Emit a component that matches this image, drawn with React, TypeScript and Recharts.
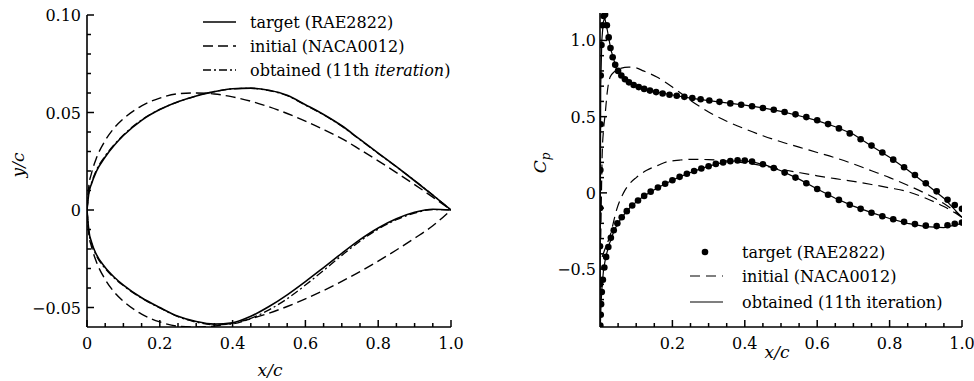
import React from 'react';
import { ComposedChart, Line, Scatter, XAxis, YAxis } from 'recharts';

// ---- left panel: airfoil shapes (y/c vs x/c) ----
const shapeX = [0, 0.005, 0.0125, 0.025, 0.05, 0.075, 0.1, 0.15, 0.2, 0.25, 0.3, 0.35, 0.4, 0.45, 0.5, 0.55, 0.6, 0.65, 0.7, 0.75, 0.8, 0.85, 0.9, 0.95, 1.0];
const targetUpper = [0, 0.0085, 0.0135, 0.0195, 0.0272, 0.0332, 0.0382, 0.046, 0.0515, 0.0555, 0.0585, 0.0607, 0.0622, 0.0625, 0.0614, 0.0588, 0.054, 0.049, 0.0432, 0.0362, 0.0292, 0.0222, 0.015, 0.0076, 0];
const targetLower = [0, -0.0105, -0.0165, -0.0225, -0.0295, -0.0345, -0.0385, -0.045, -0.05, -0.0545, -0.0572, -0.0585, -0.0578, -0.0545, -0.0495, -0.0435, -0.0367, -0.0295, -0.0222, -0.0152, -0.0092, -0.0045, -0.0012, 0.0004, 0];
const initialUpper = [0, 0.0122, 0.0189, 0.0262, 0.0356, 0.0421, 0.0468, 0.0534, 0.0574, 0.0596, 0.06, 0.0595, 0.058, 0.0558, 0.0529, 0.0495, 0.0456, 0.0413, 0.0366, 0.031, 0.0252, 0.0192, 0.013, 0.0066, 0];
const initialLower = [0, -0.0122, -0.0189, -0.0262, -0.0356, -0.0421, -0.0468, -0.0534, -0.0574, -0.0596, -0.06, -0.0595, -0.058, -0.0558, -0.0529, -0.0495, -0.0456, -0.0413, -0.0366, -0.0316, -0.0262, -0.0205, -0.0145, -0.0081, 0];
const obtainedUpper = [0, 0.009, 0.014, 0.0201, 0.0277, 0.0336, 0.0385, 0.0462, 0.0516, 0.0555, 0.0585, 0.0607, 0.0621, 0.0624, 0.0612, 0.0586, 0.0538, 0.0488, 0.043, 0.036, 0.029, 0.0222, 0.0151, 0.0077, 0];
const obtainedLower = [0, -0.011, -0.0171, -0.0231, -0.03, -0.0349, -0.0388, -0.0452, -0.0502, -0.0547, -0.0575, -0.0589, -0.0584, -0.0556, -0.0512, -0.0455, -0.0385, -0.031, -0.0233, -0.016, -0.0098, -0.005, -0.0016, 0.0002, 0];

const leftXTicks = [0, 0.05, 0.1, 0.15, 0.2, 0.25, 0.3, 0.35, 0.4, 0.45, 0.5, 0.55, 0.6, 0.65, 0.7, 0.75, 0.8, 0.85, 0.9, 0.95, 1.0];
const leftXMajor = [0, 0.2, 0.4, 0.6, 0.8, 1.0];
const leftXLabels = ['0', '0.2', '0.4', '0.6', '0.8', '1.0'];
const leftYTicks = [-0.05, -0.04, -0.03, -0.02, -0.01, 0, 0.01, 0.02, 0.03, 0.04, 0.05, 0.06, 0.07, 0.08, 0.09, 0.1];
const leftYMajor = [-0.05, 0, 0.05, 0.1];
const leftYLabels = ['\u22120.05', '0', '0.05', '0.10'];

// ---- right panel: pressure distributions (Cp vs x/c) ----
const targetTopX = [0, 0, 0.0005, 0.001, 0.0015, 0.002, 0.004, 0.007, 0.01, 0.014, 0.019, 0.024, 0.029, 0.035, 0.042, 0.05, 0.059, 0.069, 0.08, 0.093, 0.107, 0.122, 0.138, 0.155, 0.173, 0.192, 0.212, 0.233, 0.255, 0.278, 0.302, 0.33, 0.36, 0.39, 0.42, 0.45, 0.48, 0.51, 0.54, 0.57, 0.6, 0.63, 0.66, 0.69, 0.72, 0.75, 0.78, 0.81, 0.84, 0.87, 0.9, 0.93, 0.96, 0.98, 1.0];
const targetTopCp = [-0.6, -0.35, -0.1, 0.15, 0.45, 0.77, 0.97, 1.1, 1.16, 1.17, 1.1, 1.02, 0.95, 0.89, 0.84, 0.8, 0.77, 0.745, 0.725, 0.708, 0.694, 0.682, 0.671, 0.661, 0.652, 0.644, 0.637, 0.63, 0.622, 0.614, 0.606, 0.597, 0.587, 0.578, 0.568, 0.557, 0.545, 0.531, 0.515, 0.497, 0.476, 0.451, 0.423, 0.39, 0.352, 0.31, 0.265, 0.218, 0.168, 0.117, 0.063, 0.01, -0.045, -0.08, -0.105];
const targetBotX = [0.001, 0.002, 0.003, 0.005, 0.008, 0.012, 0.017, 0.023, 0.03, 0.038, 0.048, 0.06, 0.074, 0.089, 0.105, 0.122, 0.14, 0.16, 0.18, 0.2, 0.22, 0.24, 0.26, 0.28, 0.3, 0.32, 0.34, 0.36, 0.38, 0.4, 0.42, 0.45, 0.48, 0.51, 0.54, 0.57, 0.6, 0.63, 0.66, 0.69, 0.72, 0.75, 0.78, 0.81, 0.84, 0.87, 0.9, 0.93, 0.96, 0.98, 1.0];
const targetBotCp = [-0.87, -0.8, -0.73, -0.65, -0.57, -0.49, -0.42, -0.355, -0.295, -0.245, -0.2, -0.16, -0.12, -0.083, -0.05, -0.02, 0.008, 0.035, 0.06, 0.083, 0.105, 0.125, 0.143, 0.16, 0.175, 0.19, 0.2, 0.208, 0.213, 0.212, 0.205, 0.188, 0.163, 0.133, 0.1, 0.063, 0.025, -0.012, -0.046, -0.078, -0.105, -0.13, -0.153, -0.173, -0.19, -0.205, -0.215, -0.218, -0.212, -0.203, -0.195];

const obtainedTopX = [0, 0.002, 0.005, 0.009, 0.013, 0.02, 0.03, 0.045, 0.065, 0.09, 0.12, 0.16, 0.2, 0.25, 0.3, 0.35, 0.4, 0.45, 0.5, 0.55, 0.6, 0.65, 0.7, 0.75, 0.8, 0.85, 0.9, 0.95, 1.0];
const obtainedTopCp = [-0.85, 0.7, 1.0, 1.12, 1.15, 1.07, 0.94, 0.82, 0.75, 0.71, 0.685, 0.66, 0.642, 0.621, 0.605, 0.59, 0.575, 0.557, 0.535, 0.506, 0.474, 0.434, 0.385, 0.308, 0.233, 0.15, 0.06, -0.035, -0.16];
const obtainedBotX = [0.001, 0.003, 0.006, 0.01, 0.016, 0.025, 0.04, 0.06, 0.085, 0.11, 0.14, 0.18, 0.22, 0.26, 0.3, 0.34, 0.38, 0.42, 0.46, 0.5, 0.55, 0.6, 0.65, 0.7, 0.75, 0.8, 0.85, 0.9, 0.95, 1.0];
const obtainedBotCp = [-0.87, -0.72, -0.6, -0.5, -0.42, -0.34, -0.24, -0.16, -0.09, -0.04, 0.008, 0.06, 0.105, 0.143, 0.175, 0.2, 0.212, 0.205, 0.18, 0.145, 0.09, 0.025, -0.035, -0.087, -0.13, -0.168, -0.2, -0.222, -0.228, -0.2];

const initialTopX = [0.002, 0.004, 0.006, 0.01, 0.014, 0.02, 0.028, 0.04, 0.055, 0.08, 0.1, 0.12, 0.157, 0.2, 0.25, 0.3, 0.35, 0.4, 0.45, 0.5, 0.55, 0.6, 0.65, 0.7, 0.75, 0.8, 0.85, 0.9, 0.95, 1.0];
const initialTopCp = [-0.3, 0.0, 0.25, 0.42, 0.51, 0.66, 0.76, 0.795, 0.815, 0.825, 0.82, 0.8, 0.76, 0.694, 0.607, 0.53, 0.47, 0.42, 0.375, 0.335, 0.3, 0.265, 0.23, 0.19, 0.145, 0.1, 0.05, -0.005, -0.07, -0.16];
const initialBotX = [0.006, 0.015, 0.028, 0.046, 0.065, 0.083, 0.1, 0.129, 0.16, 0.184, 0.22, 0.25, 0.3, 0.35, 0.4, 0.45, 0.5, 0.55, 0.6, 0.65, 0.7, 0.75, 0.8, 0.85, 0.9, 0.95, 1.0];
const initialBotCp = [-0.42, -0.36, -0.28, -0.11, 0, 0.063, 0.1, 0.148, 0.18, 0.203, 0.215, 0.22, 0.218, 0.21, 0.197, 0.178, 0.155, 0.133, 0.112, 0.093, 0.075, 0.055, 0.033, 0.008, -0.035, -0.09, -0.16];

const rightXTicks = [0.05, 0.1, 0.15, 0.2, 0.25, 0.3, 0.35, 0.4, 0.45, 0.5, 0.55, 0.6, 0.65, 0.7, 0.75, 0.8, 0.85, 0.9, 0.95, 1.0];
const rightXMajor = [0.2, 0.4, 0.6, 0.8, 1.0];
const rightXLabels = ['0.2', '0.4', '0.6', '0.8', '1.0'];
const rightYTicks = [-0.8, -0.7, -0.6, -0.5, -0.4, -0.3, -0.2, -0.1, 0, 0.1, 0.2, 0.3, 0.4, 0.5, 0.6, 0.7, 0.8, 0.9, 1.0, 1.1];
const rightYMajor = [-0.5, 0, 0.5, 1.0];
const rightYLabels = ['\u22120.5', '0', '0.5', '1.0'];

const zip = (xs: number[], ys: number[]) => xs.map((x, i) => ({ x, y: ys[i] }));

const FONT = 'DejaVu Serif';
const Y_AXIS_W = 60;
const X_AXIS_H = 40;

const makeXTick = (majors: number[], labels: string[]) => (props: any) => {
  const i = majors.indexOf(props.payload.value);
  if (i < 0) return <g />;
  return (
    <text x={props.x} y={Number(props.y) + 22} textAnchor="middle" fontFamily={FONT} fontSize={16} fill="#000">
      {labels[i]}
    </text>
  );
};

const makeYTick = (majors: number[], labels: string[], gap: number) => (props: any) => {
  const i = majors.indexOf(props.payload.value);
  if (i < 0) return <g />;
  return (
    <text x={Number(props.x) - gap} y={Number(props.y) + 6} textAnchor="end" fontFamily={FONT} fontSize={16} fill="#000">
      {labels[i]}
    </text>
  );
};

// inward tick marks (major long, minor short), laid over the chart's plot box
function InwardTicks(props: {
  width: number; height: number; margin: { top: number; right: number; bottom: number; left: number };
  xDomain: number[]; yDomain: number[]; xTicks: number[]; xMajor: number[]; yTicks: number[]; yMajor: number[];
}) {
  const { width, height, margin, xDomain, yDomain, xTicks, xMajor, yTicks, yMajor } = props;
  const left = margin.left + Y_AXIS_W;
  const right = width - margin.right;
  const top = margin.top;
  const bottom = height - margin.bottom - X_AXIS_H;
  const sx = (v: number) => left + ((v - xDomain[0]) / (xDomain[1] - xDomain[0])) * (right - left);
  const sy = (v: number) => bottom - ((v - yDomain[0]) / (yDomain[1] - yDomain[0])) * (bottom - top);
  return (
    <g stroke="#000" strokeWidth={1.5}>
      {xTicks.map((v) => (
        <line key={`x${v}`} x1={sx(v)} x2={sx(v)} y1={bottom} y2={bottom - (xMajor.includes(v) ? 7 : 4)} />
      ))}
      {yTicks.map((v) => (
        <line key={`y${v}`} x1={left} x2={left + (yMajor.includes(v) ? 7 : 4)} y1={sy(v)} y2={sy(v)} />
      ))}
    </g>
  );
}

const axisLine = { stroke: '#000', strokeWidth: 1.6 };

const LEFT_MARGIN = { top: 15, right: 29, bottom: 14, left: 27 };
const LEFT_X_DOMAIN = [0, 1];
const LEFT_Y_DOMAIN = [-0.06, 0.1];

function ShapeChart() {
  const lines = [
    { key: 'tu', data: zip(shapeX, targetUpper), dash: undefined, w: 1.6 },
    { key: 'tl', data: zip(shapeX, targetLower), dash: undefined, w: 1.6 },
    { key: 'iu', data: zip(shapeX, initialUpper), dash: '10 5', w: 1.4 },
    { key: 'il', data: zip(shapeX, initialLower), dash: '10 5', w: 1.4 },
    { key: 'ou', data: zip(shapeX, obtainedUpper), dash: '8 3 2 3', w: 1.3 },
    { key: 'ol', data: zip(shapeX, obtainedLower), dash: '8 3 2 3', w: 1.3 },
  ];
  return (
    <div style={{ position: 'absolute', left: 0, top: 0 }}>
      <ComposedChart width={480} height={381} margin={LEFT_MARGIN}>
        <XAxis
          type="number"
          dataKey="x"
          domain={LEFT_X_DOMAIN}
          ticks={leftXTicks}
          interval={0}
          tickSize={0}
          tickMargin={0}
          height={X_AXIS_H}
          axisLine={axisLine}
          tickLine={false}
          tick={makeXTick(leftXMajor, leftXLabels)}
          allowDataOverflow
        />
        <YAxis
          type="number"
          dataKey="y"
          domain={LEFT_Y_DOMAIN}
          ticks={leftYTicks}
          interval={0}
          tickSize={0}
          tickMargin={0}
          width={Y_AXIS_W}
          axisLine={axisLine}
          tickLine={false}
          tick={makeYTick(leftYMajor, leftYLabels, 6)}
          allowDataOverflow
        />
        {lines.map((l) => (
          <Line
            key={l.key}
            data={l.data}
            dataKey="y"
            type="monotone"
            stroke="#000"
            strokeWidth={l.w}
            strokeDasharray={l.dash}
            dot={false}
            isAnimationActive={false}
          />
        ))}
      </ComposedChart>
      <svg width={480} height={381} style={{ position: 'absolute', left: 0, top: 0, pointerEvents: 'none' }}>
        <InwardTicks
          width={480}
          height={381}
          margin={LEFT_MARGIN}
          xDomain={LEFT_X_DOMAIN}
          yDomain={LEFT_Y_DOMAIN}
          xTicks={leftXTicks}
          xMajor={leftXMajor}
          yTicks={leftYTicks}
          yMajor={leftYMajor}
        />
        <text transform="translate(24,165) rotate(-90)" textAnchor="middle" fontFamily={FONT} fontStyle="italic" fontSize={17}>
          y/c
        </text>
        <text x={270} y={376} textAnchor="middle" fontFamily={FONT} fontStyle="italic" fontSize={17}>
          x/c
        </text>
        <g fontFamily={FONT} fontSize={16}>
          <line x1={203} x2={236} y1={22} y2={22} stroke="#000" strokeWidth={1.6} />
          <text x={250} y={28}>target (RAE2822)</text>
          <line x1={203} x2={236} y1={46} y2={46} stroke="#000" strokeWidth={1.4} strokeDasharray="10 5" />
          <text x={250} y={52}>initial (NACA0012)</text>
          <line x1={203} x2={236} y1={70} y2={70} stroke="#000" strokeWidth={1.3} strokeDasharray="8 3 2 3" />
          <text x={250} y={76}>
            obtained (11th <tspan fontStyle="italic">iteration</tspan>)
          </text>
        </g>
      </svg>
    </div>
  );
}

const dotShape = (p: any) => <circle cx={p.cx} cy={p.cy} r={3.3} fill="#000" />;

const RIGHT_MARGIN = { top: 13, right: 12, bottom: 14, left: 50 };
const RIGHT_X_DOMAIN = [0, 1];
const RIGHT_Y_DOMAIN = [-0.88, 1.18];

function PressureChart() {
  return (
    <div style={{ position: 'absolute', left: 490, top: 0 }}>
      <ComposedChart width={484} height={381} margin={RIGHT_MARGIN}>
        <XAxis
          type="number"
          dataKey="x"
          domain={RIGHT_X_DOMAIN}
          ticks={rightXTicks}
          interval={0}
          tickSize={0}
          tickMargin={0}
          height={X_AXIS_H}
          axisLine={axisLine}
          tickLine={false}
          tick={makeXTick(rightXMajor, rightXLabels)}
          allowDataOverflow
        />
        <YAxis
          type="number"
          dataKey="y"
          domain={RIGHT_Y_DOMAIN}
          ticks={rightYTicks}
          interval={0}
          tickSize={0}
          tickMargin={0}
          width={Y_AXIS_W}
          axisLine={axisLine}
          tickLine={false}
          tick={makeYTick(rightYMajor, rightYLabels, 4)}
          allowDataOverflow
        />
        <Line data={zip(initialTopX, initialTopCp)} dataKey="y" type="monotone" stroke="#000" strokeWidth={1.2} strokeDasharray="10 6" dot={false} isAnimationActive={false} />
        <Line data={zip(initialBotX, initialBotCp)} dataKey="y" type="monotone" stroke="#000" strokeWidth={1.2} strokeDasharray="10 6" dot={false} isAnimationActive={false} />
        <Line data={zip(obtainedTopX, obtainedTopCp)} dataKey="y" type="linear" stroke="#000" strokeWidth={1.2} dot={false} isAnimationActive={false} />
        <Line data={zip(obtainedBotX, obtainedBotCp)} dataKey="y" type="linear" stroke="#000" strokeWidth={1.2} dot={false} isAnimationActive={false} />
        <Scatter data={zip(targetTopX, targetTopCp)} fill="#000" shape={dotShape} isAnimationActive={false} />
        <Scatter data={zip(targetBotX, targetBotCp)} fill="#000" shape={dotShape} isAnimationActive={false} />
      </ComposedChart>
      <svg width={484} height={381} style={{ position: 'absolute', left: 0, top: 0, pointerEvents: 'none' }}>
        <InwardTicks
          width={484}
          height={381}
          margin={RIGHT_MARGIN}
          xDomain={RIGHT_X_DOMAIN}
          yDomain={RIGHT_Y_DOMAIN}
          xTicks={rightXTicks}
          xMajor={rightXMajor}
          yTicks={rightYTicks}
          yMajor={rightYMajor}
        />
        <text transform="translate(56,163) rotate(-90)" textAnchor="middle" fontFamily={FONT} fontStyle="italic" fontSize={17}>
          C<tspan fontSize={12} dy={4}>p</tspan>
        </text>
        <text x={287} y={358} textAnchor="middle" fontFamily={FONT} fontStyle="italic" fontSize={17}>
          x/c
        </text>
        <g fontFamily={FONT} fontSize={16}>
          <circle cx={215} cy={252} r={3.3} fill="#000" />
          <text x={252} y={258}>target (RAE2822)</text>
          <line x1={200} x2={233} y1={276} y2={276} stroke="#000" strokeWidth={1.2} strokeDasharray="10 6" />
          <text x={252} y={282}>initial (NACA0012)</text>
          <line x1={200} x2={233} y1={302} y2={302} stroke="#000" strokeWidth={1.2} />
          <text x={252} y={308}>obtained (11th iteration)</text>
        </g>
      </svg>
    </div>
  );
}

export default function App() {
  return (
    <div style={{ position: 'absolute', left: 0, top: 0, width: 974, height: 381, background: '#fff' }}>
      <ShapeChart />
      <PressureChart />
    </div>
  );
}
